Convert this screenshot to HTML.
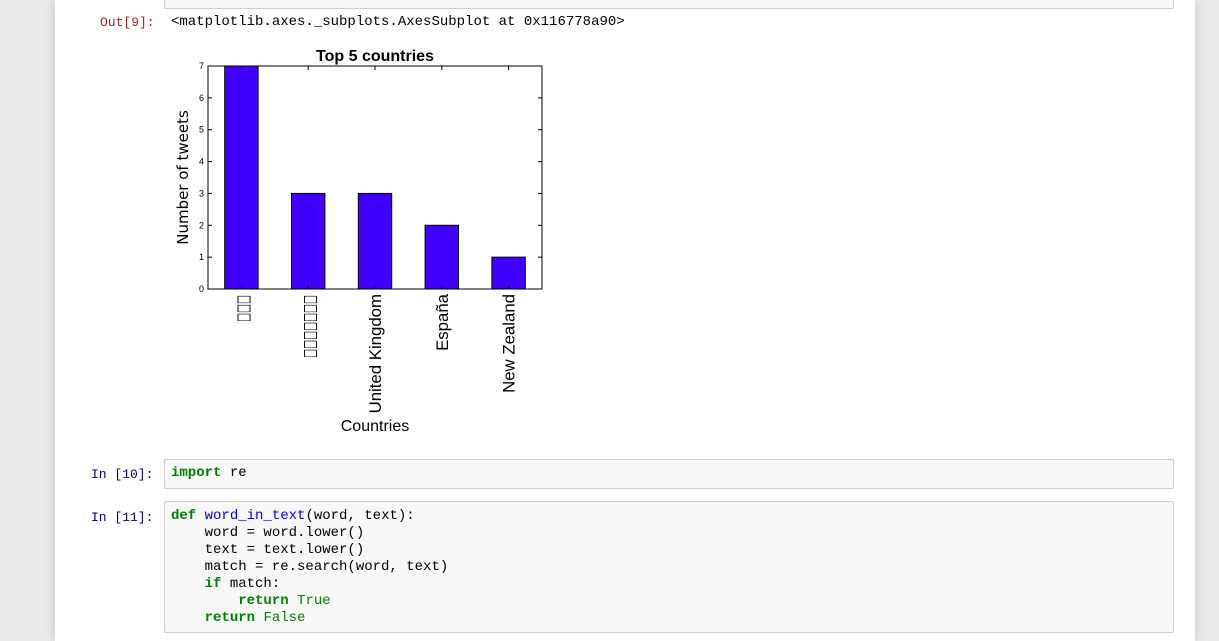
<!DOCTYPE html>
<html><head><meta charset="utf-8">
<style>
body{margin:0;width:1219px;height:641px;background:#eaeaea;position:relative;overflow:hidden;font-family:"Liberation Sans","Noto Sans CJK SC",sans-serif;}
#page{position:absolute;left:55px;top:0;width:1140px;height:641px;background:#fff;box-shadow:0 0 10px rgba(0,0,0,.15);}
.box{position:absolute;left:164px;width:1008px;background:#f7f7f7;border:1px solid #cfcfcf;border-radius:2px;}
.mono{font-family:"Liberation Mono",monospace;font-size:14px;white-space:pre;position:absolute;}
.pr{font-size:13px}
.kw{color:#008000;font-weight:bold}.fn{color:#0000ff}.gr{color:#008000}
</style></head><body>
<div id="page"></div>
<div class="box" style="top:-4px;height:11px"></div>
<div class="mono pr" style="left:100px;top:15px;color:#b22222">Out[9]:</div>
<div class="mono" style="left:171px;top:14px;color:#000">&lt;matplotlib.axes._subplots.AxesSubplot at 0x116778a90&gt;</div>

<svg id="chart" style="position:absolute;left:0;top:0" width="1219" height="641"></svg>

<div class="mono pr" style="left:91px;top:467px;color:#000080">In [10]:</div>
<div class="box" style="top:459px;height:28px"></div>
<div class="mono" style="left:171px;top:465px"><span class="kw">import</span> re</div>
<div class="mono pr" style="left:91px;top:510px;color:#000080">In [11]:</div>
<div class="box" style="top:501px;height:130px"></div>
<div class="mono" style="left:171px;top:508px;line-height:17px"><span class="kw">def</span> <span class="fn">word_in_text</span>(word, text):
    word = word.lower()
    text = text.lower()
    match = re.search(word, text)
    <span class="kw">if</span> match:
        <span class="kw">return</span> <span class="gr">True</span>
    <span class="kw">return</span> <span class="gr">False</span></div>

<script>
const categories=["□□□","□□□□□□□","United Kingdom","España","New Zealand"];
const values=[7,3,3,2,1];
const yTicks=[0,1,2,3,4,5,6,7];
const svg=document.getElementById('chart');
const NS='http://www.w3.org/2000/svg';
const L=208,R=542,T=66,B=289,yMax=7;
const step=(R-L)/categories.length;
function x(i){return L+step*(i+0.5);}
function y(v){return B-(v/yMax)*(B-T);}
function mk(t,a){const e=document.createElementNS(NS,t);for(const k in a)e.setAttribute(k,a[k]);svg.appendChild(e);return e;}
values.forEach((v,i)=>{
  const r=mk('rect',{x:x(i)-step/4,y:y(v),width:step/2,height:B-y(v),fill:'#4000ff',stroke:'#000','stroke-width':1});
  
  
  const tofu=categories[i].startsWith('□');
  const tr=tofu?`translate(${x(i)+7},295) rotate(-90) scale(1,1.8)`:`translate(${x(i)+6},294) rotate(-90)`;
  const t=mk('text',{x:0,y:0,'font-size':tofu?9.5:16.8,'text-anchor':'end',transform:tr,fill:'#000','font-family':tofu?'"DejaVu Sans",sans-serif':'"Liberation Sans",sans-serif'});
  t.textContent=categories[i];
  
  
  mk('line',{x1:x(i),x2:x(i),y1:B,y2:B-4,stroke:'#000'});
  mk('line',{x1:x(i),x2:x(i),y1:T,y2:T+4,stroke:'#000'});
});
yTicks.forEach(v=>{
  mk('line',{x1:L,x2:L+4,y1:y(v),y2:y(v),stroke:'#000'});
  mk('line',{x1:R,x2:R-4,y1:y(v),y2:y(v),stroke:'#000'});
  const t=mk('text',{x:L-4,y:y(v)+3,'font-size':9,'text-anchor':'end',fill:'#000'});
  t.textContent=v;
  
  
});
const fr=mk('rect',{x:L,y:T,width:R-L,height:B-T,fill:'none',stroke:'#000','stroke-width':1});


const ti=mk('text',{x:(L+R)/2,y:61,'font-size':16,'font-weight':'bold','text-anchor':'middle'});
ti.textContent='Top 5 countries';


const yl=mk('text',{x:0,y:0,'font-size':15,'text-anchor':'middle',transform:`translate(188,${(T+B)/2}) rotate(-90)`,'font-family':'"DejaVu Sans","Liberation Sans",sans-serif'});
yl.textContent='Number of tweets';


const xl=mk('text',{x:(L+R)/2,y:431,'font-size':16,'text-anchor':'middle','font-family':'"Liberation Sans",sans-serif'});
xl.textContent='Countries';


</script>
</body></html>
